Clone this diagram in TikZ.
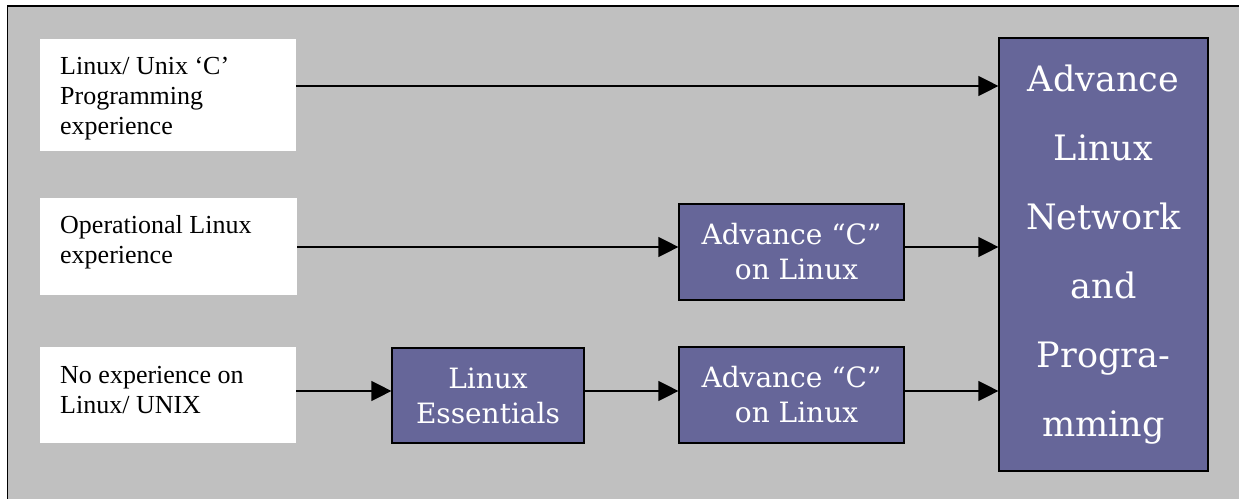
\documentclass[tikz,border=0pt]{standalone}
\usepackage{fontspec}
\setmainfont{Liberation Serif}
\newfontfamily\pfont{DejaVu Serif}
\usetikzlibrary{arrows.meta}
\definecolor{bgray}{HTML}{C0C0C0}
\definecolor{pcol}{HTML}{666699}
\tikzset{
  wbox/.style={draw=none, fill=white, inner sep=0pt, anchor=north west},
  wtext/.style={anchor=north west, inner sep=0pt, align=left, font=\fontsize{26}{30}\selectfont},
  pbox/.style={draw=black, line width=1.2pt, fill=pcol, text=white, align=center, inner sep=0pt, font=\pfont\fontsize{28}{35}\selectfont},
  bigbox/.style={pbox, font=\pfont\fontsize{35}{69}\selectfont},
  arr/.style={line width=1.3pt, -{Triangle[length=20pt,width=20pt]}}
}
\begin{document}
\begin{tikzpicture}[x=1pt,y=1pt]
\useasboundingbox (0,0) rectangle (1239,498);
\clip (0,0) rectangle (1239,498);
\draw[fill=bgray, line width=1.5pt] (7.5,492) rectangle (1270,-30);

% white boxes
\node[wbox, minimum width=256pt, minimum height=112pt] (w1) at (40,459) {};
\node[wbox, minimum width=257pt, minimum height=97pt] (w2) at (40,300) {};
\node[wbox, minimum width=256pt, minimum height=96pt] (w3) at (40,151) {};
\node[wtext] (t1) at (60,445) {\strut Linux/ Unix ‘C’\\Programming\\experience};
\node[wtext] (t2) at (60,286) {\strut Operational Linux\\experience};
\node[wtext] (t3) at (60,136) {\strut No experience on\\Linux/ UNIX};

% purple boxes
\node[pbox, minimum width=225pt, minimum height=96pt] (p1) at (791.5,246) {Advance “C”\\\hspace*{10pt}on Linux};
\node[pbox, minimum width=225pt, minimum height=96pt] (p2) at (791.5,103) {Advance “C”\\\hspace*{10pt}on Linux};
\node[pbox, minimum width=192pt, minimum height=95pt] (le) at (488,102.5) {Linux\\Essentials};
\node[bigbox, minimum width=209pt, minimum height=433pt] (big) at (1103.5,243.5) {Advance\\Linux\\Network\\and\\Progra-\\mming};

% arrow levels
\coordinate (a1) at (0,412);
\coordinate (a2) at (0,251);
\coordinate (a3) at (0,107);

\draw[arr] (w1.east |- a1) -- (big.west |- a1);
\draw[arr] (w2.east |- a2) -- (p1.west |- a2);
\draw[arr] (p1.east |- a2) -- (big.west |- a2);
\draw[arr] (w3.east |- a3) -- (le.west |- a3);
\draw[arr] (le.east |- a3) -- (p2.west |- a3);
\draw[arr] (p2.east |- a3) -- (big.west |- a3);
\end{tikzpicture}
\end{document}
